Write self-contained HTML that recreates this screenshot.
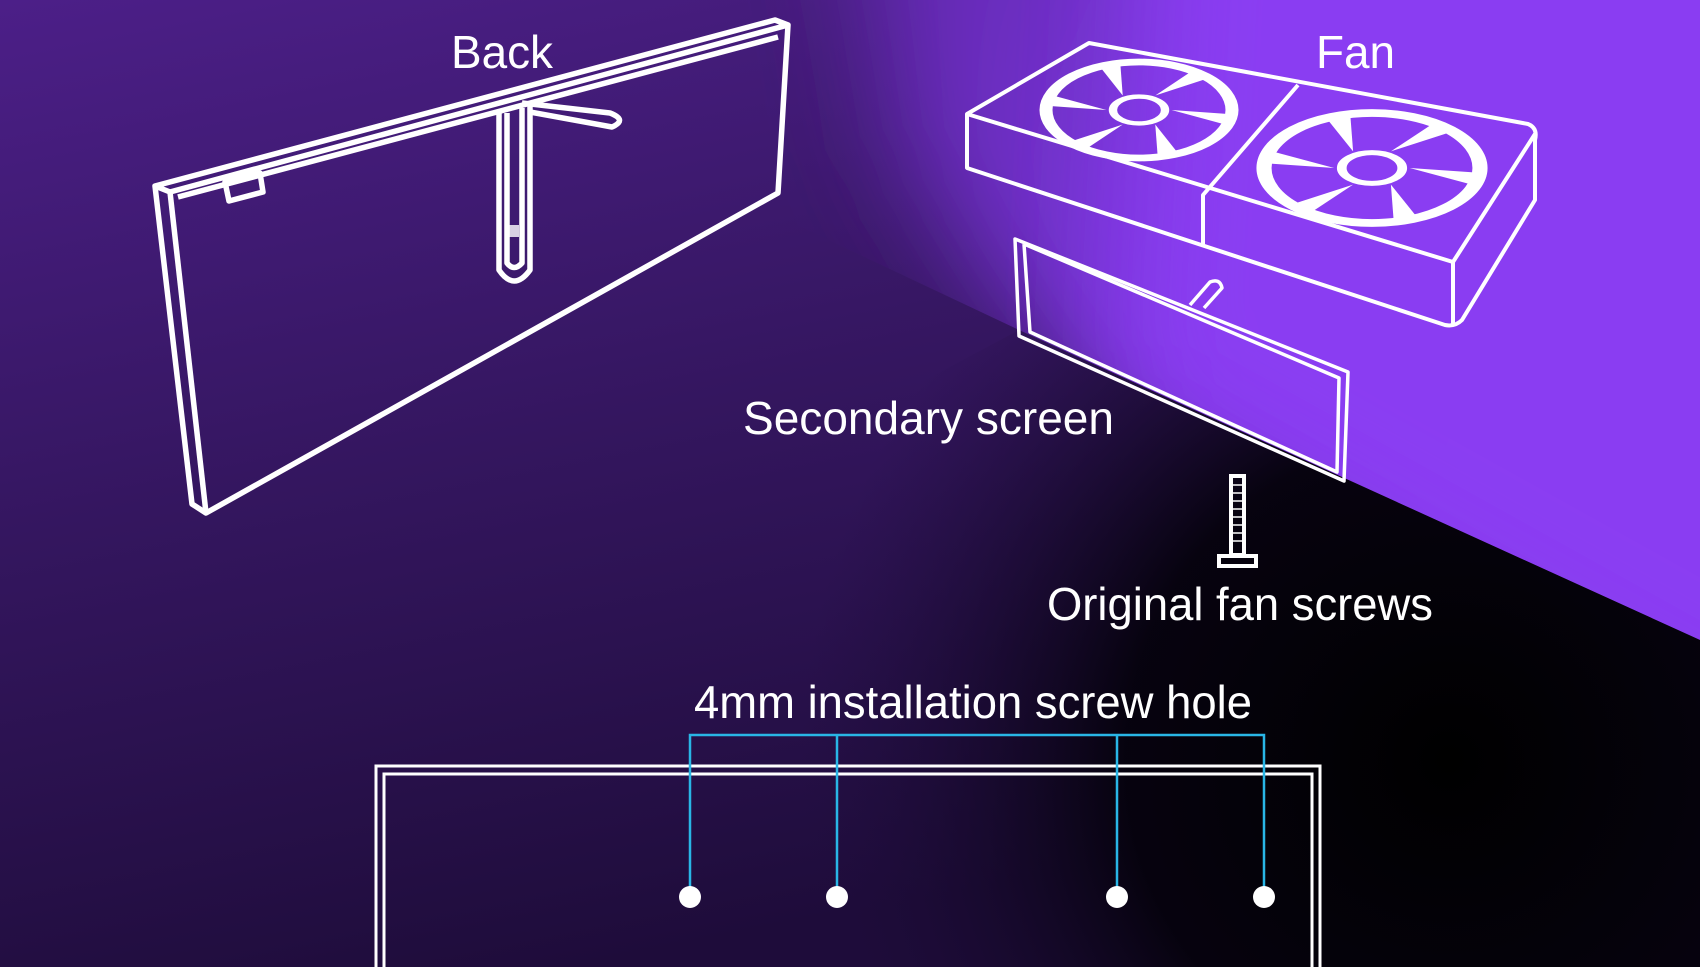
<!DOCTYPE html>
<html><head><meta charset="utf-8"><style>
html,body{margin:0;padding:0;width:1700px;height:967px;overflow:hidden;background:#2a1250}
svg{display:block}
text{font-family:"Liberation Sans",sans-serif;fill:#fff;font-size:46px}
</style></head><body>
<svg width="1700" height="967" viewBox="0 0 1700 967" xmlns="http://www.w3.org/2000/svg">
<defs>
<linearGradient id="bg" x1="0" y1="0" x2="0.35" y2="1">
<stop offset="0" stop-color="#4c1f88"/><stop offset="0.5" stop-color="#34165f"/><stop offset="1" stop-color="#1e0c3a"/>
</linearGradient>
<linearGradient id="tr" x1="0" y1="0" x2="1" y2="0.4">
<stop offset="0" stop-color="#5a24a0"/><stop offset="0.3" stop-color="#7432d0"/><stop offset="0.6" stop-color="#8a3cf2"/><stop offset="1" stop-color="#8a3cf2"/>
</linearGradient>
<radialGradient id="blk" cx="1450" cy="760" r="650" gradientUnits="userSpaceOnUse">
<stop offset="0" stop-color="#000"/><stop offset="0.5" stop-color="#05020c" stop-opacity="0.95"/><stop offset="1" stop-color="#1e0c3a" stop-opacity="0"/>
</radialGradient>
<filter id="bl" x="-50%" y="-50%" width="200%" height="200%"><feGaussianBlur stdDeviation="55"/></filter>
<clipPath id="cp"><polygon points="0,0 1700,0 1700,640 1019,330 320,0"/></clipPath>
<g id="fan">
<circle r="100" fill="none" stroke="#fff" stroke-width="14"/>
<circle r="28" fill="none" stroke="#fff" stroke-width="9"/>
<g fill="#fff">
<polygon points="35,0 94,8 92,30"/>
<polygon points="35,0 94,8 92,30" transform="rotate(60)"/>
<polygon points="35,0 94,8 92,30" transform="rotate(120)"/>
<polygon points="35,0 94,8 92,30" transform="rotate(180)"/>
<polygon points="35,0 94,8 92,30" transform="rotate(240)"/>
<polygon points="35,0 94,8 92,30" transform="rotate(300)"/>
</g>
</g>
</defs>
<rect width="1700" height="967" fill="url(#bg)"/>
<g clip-path="url(#cp)">
<polygon points="820,-300 2200,-300 2200,1000 1100,420 1000,300 900,150" fill="url(#tr)" filter="url(#bl)"/>
<polygon points="1150,-200 2200,-200 2200,1000 1120,400" fill="#8a3cf2" filter="url(#bl)"/>
</g>
<polygon points="1019,330 1700,640 1700,967 800,967 700,500" fill="url(#blk)"/>

<!-- Back panel -->
<g fill="none" stroke="#fff" stroke-width="5.5" stroke-linejoin="round">
<polygon points="155,186 775,20 788,25 778,193 206,513 192,504"/>
<polyline points="155,186 170,192 788,25"/>
<polyline points="170,192 206,513"/>
<line x1="178" y1="197" x2="778" y2="37"/>
<polygon points="225,182 260,173 263,192 229,201"/>
<path d="M499,111 L499,270 Q514,292 530,270 L530,105"/>
<path d="M507,113 L507,263 Q514,272 522,263 L522,108"/>
<path d="M522,103 L610,113 Q628,120 612,127 L530,112"/>
</g>
<rect x="509" y="225" width="10" height="12" fill="#fff" opacity="0.8"/>

<!-- Fan unit -->
<g fill="none" stroke="#fff" stroke-width="4" stroke-linejoin="round">
<path d="M967,114 L1089,43 L1528,124 Q1538,128 1535,140 L1535,200 L1462,320 Q1455,327 1445,325 L967,168 Z"/>
<polyline points="967,114 1453,262 1535,134"/>
<line x1="1453" y1="262" x2="1453" y2="325"/>
<polyline points="1298,85 1203,195 1203,247"/>
</g>
<use href="#fan" transform="translate(1139,110) scale(0.93,0.48)"/>
<use href="#fan" transform="translate(1372,168) scale(1.08,0.55)"/>

<!-- Secondary screen -->
<g fill="none" stroke="#fff" stroke-width="3.5" stroke-linejoin="round">
<polygon points="1015,239 1348,372 1344,481 1019,336"/>
<polyline points="1024,244 1030,332 1337,472 1339,378 1024,244"/>
<path d="M1190,305 L1210,282 Q1220,278 1222,288 L1204,308"/>
</g>

<!-- screw -->
<g fill="none" stroke="#fff" stroke-width="4">
<rect x="1231" y="476" width="13" height="79"/>
<rect x="1219" y="556" width="37" height="10"/>
</g>
<g stroke="#fff" stroke-width="1.5">
<line x1="1233" y1="485" x2="1242" y2="485"/><line x1="1233" y1="493" x2="1242" y2="493"/><line x1="1233" y1="501" x2="1242" y2="501"/><line x1="1233" y1="509" x2="1242" y2="509"/><line x1="1233" y1="517" x2="1242" y2="517"/><line x1="1233" y1="525" x2="1242" y2="525"/><line x1="1233" y1="533" x2="1242" y2="533"/><line x1="1233" y1="541" x2="1242" y2="541"/>
</g>

<!-- bottom frame -->
<g fill="none" stroke="#fff" stroke-width="3">
<path d="M376,967 L376,766 L1320,766 L1320,967"/>
<path d="M384,967 L384,774 L1312,774 L1312,967"/>
</g>
<g fill="none" stroke="#29b6e6" stroke-width="2.5">
<polyline points="690,896 690,735 1264,735 1264,896"/>
<line x1="837" y1="735" x2="837" y2="896"/>
<line x1="1117" y1="735" x2="1117" y2="896"/>
</g>
<g fill="#fff">
<circle cx="690" cy="897" r="11"/><circle cx="837" cy="897" r="11"/><circle cx="1117" cy="897" r="11"/><circle cx="1264" cy="897" r="11"/>
</g>

<text x="451" y="68" textLength="102" lengthAdjust="spacingAndGlyphs">Back</text>
<text x="1316" y="68" textLength="79" lengthAdjust="spacingAndGlyphs">Fan</text>
<text x="743" y="434" textLength="371" lengthAdjust="spacingAndGlyphs">Secondary screen</text>
<text x="1047" y="620" textLength="386" lengthAdjust="spacingAndGlyphs">Original fan screws</text>
<text x="694" y="718" textLength="558" lengthAdjust="spacingAndGlyphs">4mm installation screw hole</text>
</svg>
</body></html>
